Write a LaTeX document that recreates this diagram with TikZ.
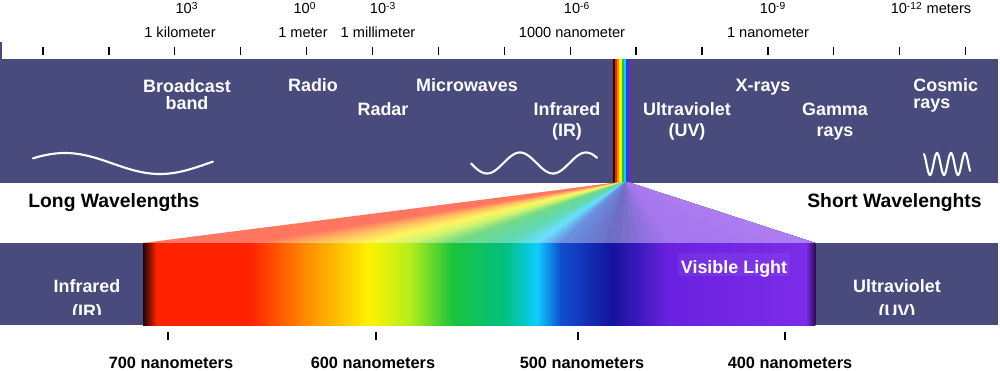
\documentclass[tikz,border=0pt]{standalone}
\usepackage{fontspec}
\setmainfont{Liberation Sans}
\usepackage{tikz}
\usepackage{xcolor}
\definecolor{band}{HTML}{4A4B7D}
\definecolor{specblack}{HTML}{1A0505}
\definecolor{specred}{HTML}{FF2200}
\definecolor{specorange}{HTML}{FF8A00}
\definecolor{specyellow}{HTML}{FFF200}
\definecolor{specyg}{HTML}{B4EE1A}
\definecolor{specgreen}{HTML}{1CC43C}
\definecolor{specteal}{HTML}{00C080}
\definecolor{speccyan}{HTML}{10CCFF}
\definecolor{specblue}{HTML}{1050D0}
\definecolor{specdark}{HTML}{14129E}
\definecolor{specviolet}{HTML}{6A22E0}
\definecolor{specpurple}{HTML}{7C2CE8}
\definecolor{specedge}{HTML}{2A0A50}

\begin{document}
\begin{tikzpicture}[x=0.02cm, y=-0.02cm,
  scalelabel/.style={anchor=base, inner sep=0pt, font=\fontsize{8.3}{10}\selectfont},
  bandlabel/.style={anchor=base, inner sep=0pt, align=center, text=white,
    font=\fontsize{10.2}{12}\selectfont\bfseries},
  sidelabel/.style={inner sep=0pt, font=\fontsize{11}{13}\selectfont\bfseries},
  nmlabel/.style={anchor=base, inner sep=0pt, font=\fontsize{9.3}{11}\selectfont\bfseries},
  tick/.style={line width=0.75pt},
  wave/.style={white, line width=1.2pt, line cap=round}]
\useasboundingbox (0,0) rectangle (1000,371);

% === Top scale ===
\foreach \k in {0,...,14} {
  \draw[tick] (43+65.9*\k,47) -- ++(0,8);
}
\node[scalelabel] (pow3) at (187,14) {10\textsuperscript{3}};
\node[scalelabel] (pow0) at (305,14) {10\textsuperscript{0}};
\node[scalelabel] (powm3) at (383,14) {10\textsuperscript{-3}};
\node[scalelabel] (powm6) at (577,14) {10\textsuperscript{-6}};
\node[scalelabel] (powm9) at (773,14) {10\textsuperscript{-9}};
\node[scalelabel] (powm12) at (931,14) {10\textsuperscript{-12} meters};
\node[scalelabel] (km) at (180,38) {1 kilometer};
\node[scalelabel] (meter) at (303,38) {1 meter};
\node[scalelabel] (mm) at (378,38) {1 millimeter};
\node[scalelabel] (nm1000) at (572,38) {1000 nanometer};
\node[scalelabel] (nm1) at (768,38) {1 nanometer};

% === Top band ===
\draw[band, line width=1pt] (1,42) -- (1,59);
\fill[band] (0,59) rectangle (998,183);
% narrow spectrum strip
\foreach \c [count=\ci from 0] in {specblack,specred,specorange,specyellow,specgreen,speccyan,specblue,specviolet} {
  \fill[\c] (613+2.125*\ci,59) rectangle ++(2.4,124);
}
% (base anchor = last line)
\node[bandlabel] (broadcast) at (187,110) {Broadcast\\[-2.3pt]band};
\node[bandlabel] (radio) at (313,92) {Radio};
\node[bandlabel] (radar) at (383,116) {Radar};
\node[bandlabel] (micro) at (467,92) {Microwaves};
\node[bandlabel] (irtop) at (567,137) {Infrared\\[0.5pt](IR)};
\node[bandlabel] (uvtop) at (687,137) {Ultraviolet\\[0.5pt](UV)};
\node[bandlabel] (xray) at (763,92) {X-rays};
\node[bandlabel] (gamma) at (835,137) {Gamma\\[0.5pt]rays};
\node[bandlabel, anchor=base west, align=left] (cosmic) at (913,109) {Cosmic\\[-2.3pt]rays};

% waves
\draw[wave] plot[domain=33:213, samples=80] (\x, {163.5-10.5*cos(360/190*(\x-65))});
\draw[wave] plot[domain=471:597, samples=80] (\x, {163-10.5*cos(360/66*(\x-520))});
\draw[wave] plot[domain=924:970, samples=80] (\x, {164-11*cos(360/14*(\x-937))});

% === Side labels ===
\node[sidelabel, anchor=base west] (long) at (28,208) {Long Wavelengths};
\node[sidelabel, anchor=base east] (short) at (982,208) {Short Wavelenghts};

% === Fan: each slice runs to the right edge, the next one paints over it ===
\begin{scope}
\clip (613,183) -- (143,243) -- (815,243) -- (630,183) -- cycle;
\foreach \xa/\xb/\ca/\cb in {143/250/specred/specred, 250/305/specred/specorange,
    305/368/specorange/specyellow, 368/410/specyellow/specyg, 410/452/specyg/specgreen,
    452/505/specgreen/specteal, 505/537/specteal/speccyan, 537/560/speccyan/specblue,
    560/612/specblue/specdark, 612/668/specdark/specviolet, 668/815/specviolet/specpurple} {
  \foreach \i in {0,...,5} {
    \pgfmathsetmacro\ba{\xa+(\xb-\xa)*\i/6}
    \pgfmathsetmacro\ta{613+17/672*(\ba-143)}
    \pgfmathtruncatemacro\mix{100-(\i+0.5)*100/6}
    \colorlet{slice}{\ca!\mix!\cb}
    \fill[slice!62!white] (\ta,183) -- (\ba,243) -- (816,243) -- (631,183) -- cycle;
  }
}
\end{scope}

% === Bottom band ===
\fill[band] (0,243) rectangle (998,325);
\foreach \xa/\xb/\ca/\cb in {143/156/specblack/specred, 156/250/specred/specred,
    250/305/specred/specorange, 305/368/specorange/specyellow, 368/410/specyellow/specyg,
    410/452/specyg/specgreen, 452/505/specgreen/specteal, 505/537/specteal/speccyan,
    537/560/speccyan/specblue, 560/612/specblue/specdark, 612/668/specdark/specviolet,
    668/806/specviolet/specpurple, 806/815/specpurple/specedge} {
  \shade[left color=\ca, right color=\cb] (\xa,243) rectangle (\xb+0.4,325);
}
\fill[white, opacity=0.06] (678,253) rectangle (790,276);
\node[bandlabel] (visible) at (734,273) {Visible Light};
\begin{scope}
\clip (0,243) rectangle (998,314);
\node[bandlabel] (irbot) at (87,317) {Infrared\\[2pt](IR)};
\node[bandlabel] (uvbot) at (897,317) {Ultraviolet\\[2pt](UV)};
\end{scope}

% === Bottom scale ===
\foreach \xt in {168,376,578,785} {
  \draw[tick] (\xt,332) -- ++(0,8);
}
\node[nmlabel] (nm700) at (171,368) {700 nanometers};
\node[nmlabel] (nm600) at (373,368) {600 nanometers};
\node[nmlabel] (nm500) at (582,368) {500 nanometers};
\node[nmlabel] (nm400) at (790,368) {400 nanometers};
\end{tikzpicture}
\end{document}
